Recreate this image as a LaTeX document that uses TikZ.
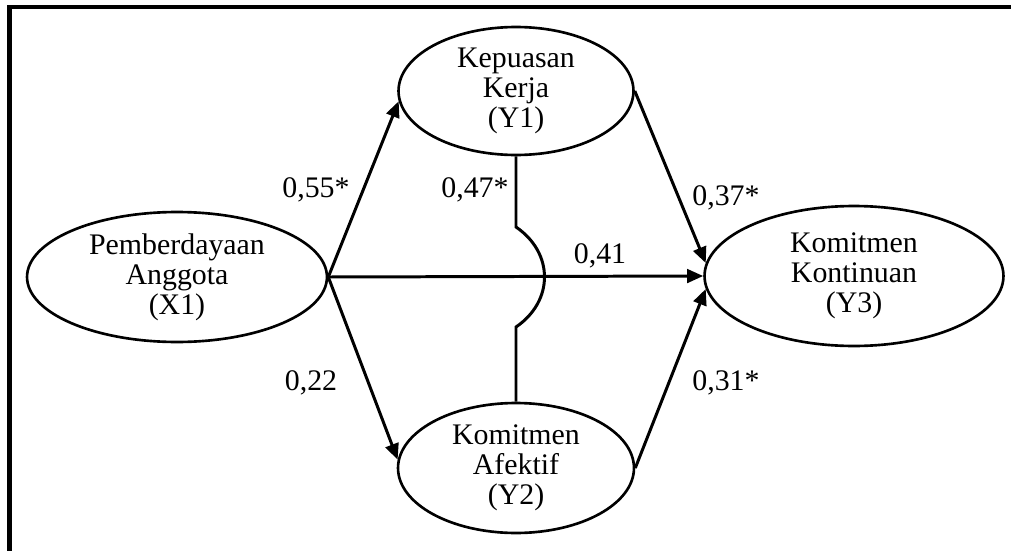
\documentclass[tikz,border=0pt]{standalone}
\usepackage{fontspec}
\setmainfont{Liberation Serif}
\usetikzlibrary{arrows.meta,positioning,shapes.geometric,calc}

\begin{document}
\begin{tikzpicture}[
  x=0.02cm, y=-0.02cm,
  var/.style={ellipse, draw, line width=1.5pt, inner sep=0pt, align=center,
              font=\fontsize{17}{17}\selectfont},
  coef/.style={inner sep=0pt, anchor=base, font=\fontsize{17}{17}\selectfont},
  arr/.style={-{Triangle[length=3.2mm, width=2.7mm]}, line width=1.7pt},
  link/.style={line width=1.7pt},
]
  \useasboundingbox (0,0) rectangle (1011,551);
  % Frame
  \draw[line width=2.4pt] (9.5,551) -- (9.5,7) -- (1011,7);

  % Constructs
  \node[var, minimum width=6cm, minimum height=2.6cm] (X1) at (177,277) {Pemberdayaan\\Anggota\\(X1)};
  \node[var, minimum width=4.7cm, minimum height=2.56cm] (Y1) at (516,91) {Kepuasan\\Kerja\\(Y1)};
  \node[var, minimum width=4.72cm, minimum height=2.6cm] (Y2) at (516,468) {Komitmen\\Afektif\\(Y2)};
  \node[var, minimum width=5.98cm, minimum height=2.8cm] (Y3) at (854,276) {Komitmen\\Kontinuan\\(Y3)};

  % Paths
  \draw[arr] (X1.east) -- (Y1.185);
  \draw[arr] (X1.east) -- (Y2.176);
  \draw[arr] (X1.east) -- (Y3.west);
  \draw[arr] (Y1.east) -- (Y3.175);
  \draw[arr] (Y2.east) -- (Y3.185);

  % Y1 -- Y2 with a hop over X1 -> Y3
  \coordinate (hop) at (Y1.south |- X1.east);
  \draw[link] (Y1.south) -- ($(hop)+(0,-50)$)
    .. controls ($(hop)+(38,-24)$) and ($(hop)+(38,24)$) .. ($(hop)+(0,50)$)
    -- (Y2.north);

  % Coefficients
  \node[coef] (c55) at (316,197) {0,55*};
  \node[coef] (c47) at (475,197) {0,47*};
  \node[coef] (c37) at (726,205) {0,37*};
  \node[coef] (c41) at (600,263) {0,41};
  \node[coef] (c22) at (311,390) {0,22};
  \node[coef] (c31) at (726,390) {0,31*};
\end{tikzpicture}
\end{document}
